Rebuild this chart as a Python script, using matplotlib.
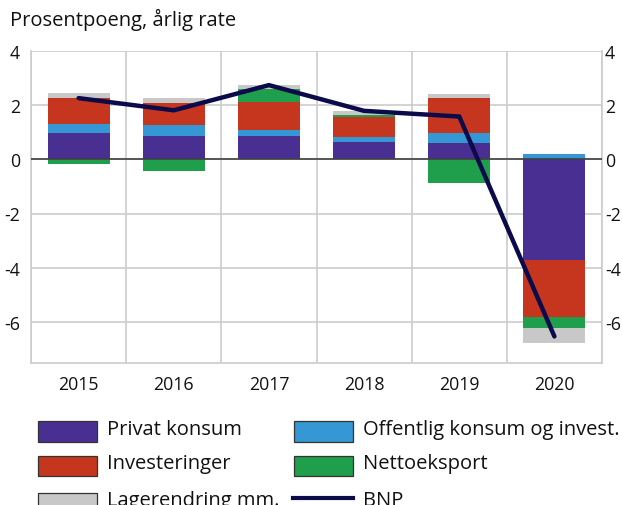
import matplotlib
matplotlib.use("Agg")
import matplotlib.pyplot as plt
import numpy as np
from matplotlib.patches import Rectangle
from matplotlib.lines import Line2D

plt.rcParams['font.family'] = ['Open Sans', 'DejaVu Sans']

years = ["2015", "2016", "2017", "2018", "2019", "2020"]
privat = [0.96, 0.86, 0.86, 0.64, 0.59, -3.73]
offentlig = [0.33, 0.41, 0.22, 0.19, 0.40, 0.21]
invest = [0.99, 0.80, 1.02, 0.75, 1.26, -2.10]
netto = [-0.18, -0.43, 0.49, 0.07, -0.86, -0.38]
lager = [0.16, 0.18, 0.15, 0.14, 0.16, -0.58]
bnp = [2.26, 1.81, 2.74, 1.79, 1.58, -6.54]

series = [
    ("Privat konsum", privat, "#4a2f92"),
    ("Offentlig konsum og invest.", offentlig, "#3597d4"),
    ("Investeringer", invest, "#c6361e"),
    ("Nettoeksport", netto, "#1f9e4b"),
    ("Lagerendring mm.", lager, "#c8c8c8"),
]

W, H = 622, 506
fig = plt.figure(figsize=(W / 100, H / 100), dpi=100)
ax = fig.add_axes([31 / W, 1 - 364 / H, (602 - 31) / W, (364 - 52) / H])

x = np.arange(len(years))
pos_base = np.zeros(len(years))
neg_base = np.zeros(len(years))
for name, vals, col in series:
    vals = np.array(vals)
    bottoms = np.where(vals >= 0, pos_base, neg_base)
    ax.bar(x, vals, width=0.65, bottom=bottoms, color=col, edgecolor="none", zorder=2)
    pos_base = pos_base + np.where(vals >= 0, vals, 0)
    neg_base = neg_base + np.where(vals < 0, vals, 0)

ax.plot(x, bnp, color="#0b0a4a", lw=3.2, zorder=4, solid_capstyle="round", solid_joinstyle="miter")

ax.axhline(0, color="#404040", lw=1.2, zorder=3)

ax.set_xlim(-0.5, len(years) - 0.5)
ax.set_ylim(-7.52, 4)
ax.set_yticks([4, 2, 0, -2, -4, -6])
ax.set_yticklabels(["4", "2", "0", "-2", "-4", "-6"])
ax.set_xticks(x)
ax.set_xticklabels(years)
ax.set_xticks(np.arange(-0.5, len(years)), minor=True)
ax.grid(True, which="minor", axis="x", color="#cccccc", lw=1.2, zorder=0)
ax.grid(True, which="major", axis="y", color="#cccccc", lw=1.2, zorder=0)
ax.tick_params(axis="both", which="both", length=0)
ax.tick_params(axis="y", labelsize=12.8, pad=8, colors="#111111")
ax.tick_params(axis="x", labelsize=12.8, pad=9, colors="#111111")
for s in ["left", "bottom", "right"]:
    ax.spines[s].set_color("#cccccc")
    ax.spines[s].set_linewidth(1.2)
ax.spines["top"].set_visible(False)

ax2 = ax.twinx()
ax2.set_ylim(ax.get_ylim())
ax2.set_yticks([4, 2, 0, -2, -4, -6])
ax2.set_yticklabels(["4", "2", "0", "-2", "-4", "-6"])
ax2.tick_params(axis="y", length=0, labelsize=12.8, pad=2, colors="#111111")
for s in ax2.spines.values():
    s.set_visible(False)

fig.text(10 / W, 1 - 20 / H, "Prosentpoeng, årlig rate", fontsize=14.5, va="center", ha="left", color="#111111")

# Legend
def patch(xp, ytop, col):
    fig.add_artist(Rectangle((xp / W, 1 - (ytop + 20.5) / H), 59 / W, 20.5 / H,
                             transform=fig.transFigure, facecolor=col,
                             edgecolor="#333333", lw=0.9))

rows_top = [422, 456.5, 493.5]
leg_font = 14.5
c1x, c2x = 37.5, 294
t1x, t2x = 107, 363
def label(xp, ytop, txt):
    fig.text(xp / W, 1 - (ytop + 8) / H, txt, fontsize=leg_font, va="center", ha="left", color="#111111")

patch(c1x, rows_top[0], series[0][2]); label(t1x, rows_top[0], series[0][0])
patch(c2x, rows_top[0], series[1][2]); label(t2x, rows_top[0], series[1][0])
patch(c1x, rows_top[1], series[2][2]); label(t1x, rows_top[1], series[2][0])
patch(c2x, rows_top[1], series[3][2]); label(t2x, rows_top[1], series[3][0])
patch(c1x, rows_top[2], series[4][2]); label(t1x, rows_top[2], series[4][0])
fig.add_artist(Line2D([293 / W, 353 / W], [1 - 499 / H, 1 - 499 / H], transform=fig.transFigure,
                      color="#0b0a4a", lw=3))
label(t2x, rows_top[2], "BNP")

fig.savefig("out.png", dpi=100)
